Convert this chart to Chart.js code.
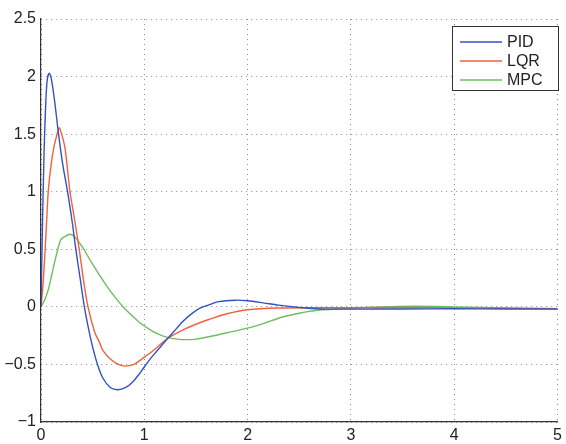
<!DOCTYPE html>
<html>
<head>
<meta charset="utf-8">
<script src="https://cdn.jsdelivr.net/npm/chart.js@4"></script>
<style>
  html, body { margin: 0; padding: 0; background: #ffffff; }
  #wrap { width: 566px; height: 444px; }
</style>
</head>
<body>
<div id="wrap"><canvas id="c" width="566" height="444"></canvas></div>
<script>
// ---- Data ----
const seriesNames = ["PID", "LQR", "MPC"];

const tPID = [0, 0.015, 0.03, 0.045, 0.06, 0.08, 0.10, 0.13, 0.17, 0.21, 0.257, 0.30, 0.337, 0.38, 0.42, 0.46, 0.50, 0.55, 0.60, 0.67, 0.743, 0.82, 0.89, 0.97, 1.05, 1.13, 1.21, 1.29, 1.37, 1.45, 1.53, 1.62, 1.72, 1.88, 2.0, 2.15, 2.3, 2.5, 2.7, 3.0, 3.5, 4.0, 4.5, 5.0];
const yPID = [0, 0.75, 1.35, 1.75, 1.97, 2.03, 1.98, 1.80, 1.50, 1.24, 1.0, 0.75, 0.5, 0.24, 0.0, -0.19, -0.35, -0.51, -0.62, -0.70, -0.72, -0.70, -0.65, -0.56, -0.46, -0.375, -0.29, -0.21, -0.13, -0.065, -0.015, 0.015, 0.045, 0.058, 0.053, 0.035, 0.015, -0.005, -0.018, -0.02, -0.018, -0.017, -0.018, -0.018];

const tLQR = [0, 0.02, 0.04, 0.055, 0.07, 0.10, 0.128, 0.15, 0.176, 0.20, 0.234, 0.28, 0.31, 0.37, 0.41, 0.455, 0.52, 0.567, 0.60, 0.68, 0.75, 0.81, 0.90, 0.98, 1.1, 1.225, 1.40, 1.53, 1.625, 1.8, 2.0, 2.3, 2.6, 3.0, 3.5, 4.0, 4.5, 5.0];
const yLQR = [0, 0.2, 0.5, 0.75, 1.0, 1.25, 1.40, 1.48, 1.555, 1.50, 1.37, 1.0, 0.84, 0.5, 0.24, 0.0, -0.22, -0.31, -0.38, -0.46, -0.50, -0.515, -0.50, -0.45, -0.37, -0.275, -0.19, -0.14, -0.11, -0.06, -0.025, -0.01, -0.008, -0.008, -0.005, -0.01, -0.012, -0.015];

const tMPC = [0, 0.04, 0.074, 0.13, 0.19, 0.23, 0.28, 0.33, 0.40, 0.48, 0.56, 0.64, 0.72, 0.80, 0.88, 0.96, 1.05, 1.13, 1.225, 1.32, 1.40, 1.50, 1.625, 1.80, 2.0, 2.15, 2.33, 2.5, 2.68, 3.0, 3.3, 3.6, 4.0, 4.5, 5.0];
const yMPC = [0, 0.07, 0.16, 0.38, 0.58, 0.61, 0.63, 0.605, 0.52, 0.40, 0.285, 0.175, 0.08, -0.005, -0.075, -0.14, -0.195, -0.235, -0.265, -0.28, -0.285, -0.28, -0.26, -0.225, -0.185, -0.145, -0.09, -0.055, -0.03, -0.012, 0.0, 0.005, 0.0, -0.01, -0.015];

const xTicks = [0, 1, 2, 3, 4, 5];
const yTicks = [-1, -0.5, 0, 0.5, 1, 1.5, 2, 2.5];

// ---- Styling ----
const colors = ["#3352c2", "#f2603c", "#6cbf5e"];
const FONT = "'Liberation Sans', Arial, Helvetica, sans-serif";

function pts(t, y) { return t.map((v, i) => ({ x: v, y: y[i] })); }

const datasets = [
  { label: seriesNames[0], data: pts(tPID, yPID) },
  { label: seriesNames[1], data: pts(tLQR, yLQR) },
  { label: seriesNames[2], data: pts(tMPC, yMPC) }
].map((d, i) => Object.assign(d, {
  borderColor: colors[i],
  backgroundColor: colors[i],
  borderWidth: 1.4,
  pointRadius: 0,
  fill: false,
  tension: 0.3
}));

function fmt(v) {
  const s = String(Math.round(v * 10) / 10);
  return s.replace('-', '\u2212');
}

const legendPlugin = {
  id: 'boxLegend',
  afterDatasetsDraw(chart) {
    const ctx = chart.ctx;
    const x0 = 452, y0 = 26, w = 106, h = 64;
    ctx.save();
    ctx.fillStyle = '#ffffff';
    ctx.fillRect(x0, y0, w, h);
    ctx.strokeStyle = '#333333';
    ctx.lineWidth = 1;
    ctx.strokeRect(x0 + 0.5, y0 + 0.5, w, h);
    ctx.font = "16px " + FONT;
    ctx.textBaseline = 'middle';
    ctx.textAlign = 'left';
    chart.data.datasets.forEach((ds, i) => {
      const yy = y0 + 16 + i * 19;
      ctx.strokeStyle = ds.borderColor;
      ctx.lineWidth = 1.4;
      ctx.beginPath();
      ctx.moveTo(460, yy);
      ctx.lineTo(502, yy);
      ctx.stroke();
      ctx.fillStyle = '#222222';
      ctx.fillText(ds.label, 507, yy + 1);
    });
    ctx.restore();
  }
};

new Chart(document.getElementById('c'), {
  type: 'line',
  data: { datasets },
  options: {
    responsive: false,
    animation: false,
    layout: { padding: { left: 0, right: 5, top: 19, bottom: 0 } },
    plugins: { legend: { display: false }, tooltip: { enabled: false } },
    scales: {
      x: {
        type: 'linear',
        min: 0, max: 5,
        afterBuildTicks(scale) { scale.ticks = xTicks.map(v => ({ value: v })); },
        afterFit(scale) { scale.height = 22; },
        grid: { color: '#8a8a8a', lineWidth: 1, drawTicks: false },
        border: { display: true, color: '#333333', width: 1.2, dash: [1, 4] },
        ticks: { color: '#222222', padding: 4, maxRotation: 0, font: { family: FONT, size: 16 }, callback: v => fmt(v) }
      },
      y: {
        type: 'linear',
        min: -1, max: 2.5,
        afterBuildTicks(scale) { scale.ticks = yTicks.map(v => ({ value: v })); },
        afterFit(scale) { scale.width = 41; },
        grid: { color: '#8a8a8a', lineWidth: 1, drawTicks: false },
        border: { display: true, color: '#333333', width: 1.2, dash: [1, 4] },
        ticks: { color: '#222222', padding: 5, font: { family: FONT, size: 16 }, callback: v => fmt(v) }
      }
    }
  },
  plugins: [legendPlugin]
});
</script>
</body>
</html>
